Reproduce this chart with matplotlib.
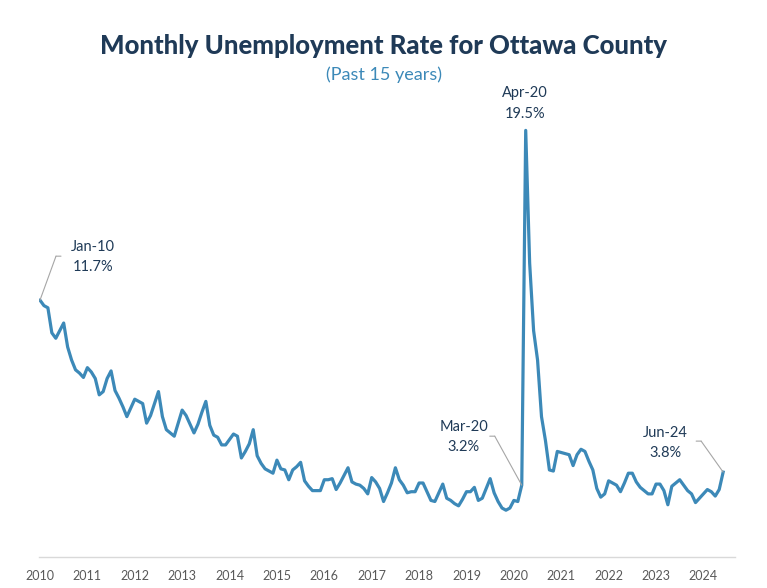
import numpy as np
import matplotlib
matplotlib.use('Agg')
import matplotlib.pyplot as plt
from matplotlib.transforms import offset_copy

plt.rcParams['font.family'] = ['Lato', 'DejaVu Sans']

# monthly unemployment rate, Jan 2010 .. Jun 2024
rate_2010 = [11.7, 11.45, 11.35, 10.2, 9.95, 10.3, 10.65, 9.55, 8.95, 8.5, 8.35, 8.15]
rate_2011 = [8.6, 8.4, 8.1, 7.35, 7.5, 8.1, 8.45, 7.55, 7.2, 6.8, 6.35, 6.75]
rate_2012 = [7.15, 7.05, 6.95, 6.05, 6.4, 6.95, 7.5, 6.35, 5.75, 5.6, 5.45, 6.05]
rate_2013 = [6.65, 6.4, 6.0, 5.6, 6.0, 6.55, 7.05, 5.95, 5.5, 5.4, 5.05, 5.05]
rate_2014 = [5.3, 5.55, 5.45, 4.45, 4.75, 5.1, 5.75, 4.55, 4.2, 3.95, 3.85, 3.75]
rate_2015 = [4.35, 3.95, 3.9, 3.45, 3.9, 4.05, 4.25, 3.4, 3.15, 2.95, 2.95, 2.95]
rate_2016 = [3.45, 3.45, 3.5, 3.0, 3.3, 3.65, 4.0, 3.35, 3.25, 3.2, 3.05, 2.8]
rate_2017 = [3.55, 3.35, 3.05, 2.45, 2.85, 3.3, 4.0, 3.45, 3.2, 2.85, 2.9, 2.9]
rate_2018 = [3.3, 3.3, 2.9, 2.5, 2.45, 2.85, 3.25, 2.6, 2.5, 2.35, 2.25, 2.55]
rate_2019 = [2.9, 2.9, 3.1, 2.5, 2.6, 3.05, 3.5, 2.85, 2.45, 2.15, 2.05, 2.15]
rate_2020 = [2.5, 2.45, 3.2, 19.5, 13.4, 10.3, 8.95, 6.35, 5.25, 3.9, 3.85, 4.75]
rate_2021 = [4.7, 4.65, 4.6, 4.1, 4.6, 4.85, 4.75, 4.3, 3.9, 3.05, 2.65, 2.8]
rate_2022 = [3.4, 3.3, 3.2, 2.9, 3.3, 3.75, 3.75, 3.35, 3.1, 2.95, 2.8, 2.8]
rate_2023 = [3.25, 3.25, 2.95, 2.3, 3.15, 3.3, 3.45, 3.2, 2.95, 2.8, 2.4, 2.6]
rate_2024 = [2.8, 3.0, 2.9, 2.7, 3.0, 3.8]

years = [str(y) for y in range(2010, 2025)]
month_names = ['Jan', 'Feb', 'Mar', 'Apr', 'May', 'Jun',
               'Jul', 'Aug', 'Sep', 'Oct', 'Nov', 'Dec']

rates = (rate_2010 + rate_2011 + rate_2012 + rate_2013 + rate_2014 + rate_2015
         + rate_2016 + rate_2017 + rate_2018 + rate_2019 + rate_2020 + rate_2021
         + rate_2022 + rate_2023 + rate_2024)
labels = [m + '-' + y[2:] for y in years for m in month_names][:len(rates)]
x = np.arange(len(rates))

navy = '#1F3A57'
blue = '#3C89B8'
grey_line = '#A6A6A6'

fig = plt.figure(figsize=(7.67, 5.88), dpi=100)
ax = fig.add_axes([39 / 767, 1 - 557 / 588, 696 / 767, 481 / 588])
ax.plot(x, rates, color=blue, lw=2.3, solid_joinstyle='round')
ax.set_xlim(-0.25, 176)
ax.set_ylim(-0.1, 22)

for s in ['top', 'right', 'left']:
    ax.spines[s].set_visible(False)
ax.spines['bottom'].set_color('#D9D9D9')
ax.spines['bottom'].set_linewidth(1)
ax.set_yticks([])
ax.set_xticks(np.arange(0, len(rates), 12))
ax.set_xticklabels(years, fontsize=9, color='#595959')
ax.tick_params(axis='x', length=0, pad=9)

fig.text(0.5, 1 - 46 / 588, 'Monthly Unemployment Rate for Ottawa County',
         ha='center', va='center', fontsize=18.5, fontweight='black', color=navy)
fig.text(0.5, 1 - 75 / 588, '(Past 15 years)', ha='center', va='center',
         fontsize=13, color=blue)

line_kw = dict(arrowstyle='-', color=grey_line, lw=0.8, shrinkA=0, shrinkB=0)


def callout(i, dx, dy, corner=None, end=None):
    pt = (x[i], rates[i])
    txt = labels[i] + '\n' + '{:.1f}%'.format(rates[i])
    ax.annotate(txt, xy=pt, xytext=(dx, dy), textcoords='offset pixels',
                ha='center', va='center', fontsize=10.5, color=navy,
                linespacing=1.6)
    if corner:
        # diagonal from the point up to the corner, then a short flat piece
        ax.annotate('', xy=pt, xytext=corner, textcoords='offset pixels',
                    arrowprops=line_kw)
        tr = offset_copy(ax.transData, fig=fig, x=corner[0], y=corner[1],
                         units='dots')
        ax.annotate('', xy=pt, xycoords=tr, xytext=end,
                    textcoords='offset pixels', arrowprops=line_kw)


i_jan10 = 0
i_apr20 = rates.index(max(rates))
i_mar20 = i_apr20 - 1
i_jun24 = len(rates) - 1

callout(i_jan10, 53, 43, corner=(16, 44), end=(5, 0))
callout(i_apr20, -1, 27)
callout(i_mar20, -58, 48, corner=(-27, 49), end=(-5, 0))
callout(i_jun24, -58, 29, corner=(-22, 31), end=(-5, 0))

fig.savefig('out.png', dpi=100)
